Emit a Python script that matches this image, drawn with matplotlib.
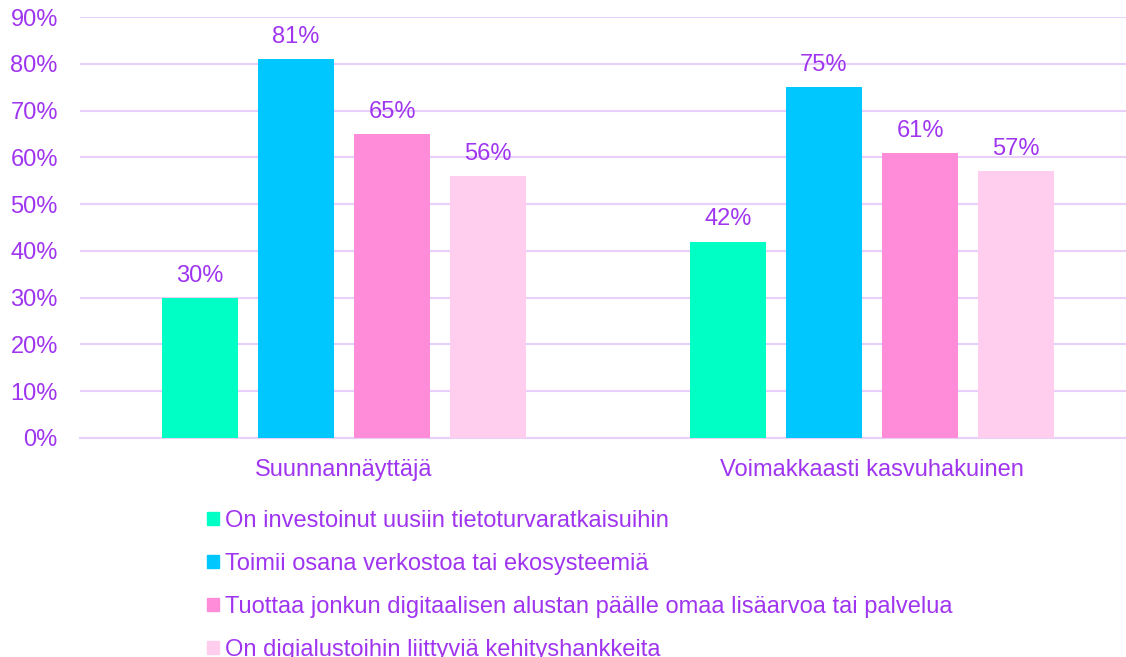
import matplotlib.pyplot as plt
from matplotlib.patches import Patch

plt.rcParams['font.family'] = ['Liberation Sans', 'DejaVu Sans']

groups = ['Suunnannäyttäjä', 'Voimakkaasti kasvuhakuinen']
series = [
    'On investoinut uusiin tietoturvaratkaisuihin',
    'Toimii osana verkostoa tai ekosysteemiä',
    'Tuottaa jonkun digitaalisen alustan päälle omaa lisäarvoa tai palvelua',
    'On digialustoihin liittyviä kehityshankkeita',
]
values = [
    [0.30, 0.42],
    [0.81, 0.75],
    [0.65, 0.61],
    [0.56, 0.57],
]
colors = ['#00FFC5', '#00C8FF', '#FF8CD8', '#FFCDEE']
text_col = '#A035F0'
grid_col = '#E8D0FA'

fig = plt.figure(figsize=(11.26, 6.57), dpi=100)
ax = fig.add_axes([80 / 1126, 219 / 657, 1046 / 1126, 421 / 657])

width = 0.144
step = 0.182
for i, (name, vals) in enumerate(zip(series, values)):
    xs = [g + (i - 1.5) * step for g in range(len(groups))]
    bars = ax.bar(xs, vals, width=width, color=colors[i], label=name, zorder=3)
    for b, v in zip(bars, vals):
        ax.annotate('{:.0%}'.format(v), (b.get_x() + b.get_width() / 2, v),
                    xytext=(0, 8), textcoords='offset points',
                    ha='center', va='bottom', fontsize=17, color=text_col)

ax.set_xlim(-0.5, 1.481)
ax.set_ylim(0, 0.9)
ax.set_yticks([i / 10 for i in range(10)])
ax.set_yticklabels(['{}%'.format(i * 10) for i in range(10)])
ax.set_xticks(range(len(groups)))
ax.set_xticklabels(groups)
ax.tick_params(length=0, labelsize=17, labelcolor=text_col)
ax.tick_params(axis='x', pad=15)
ax.tick_params(axis='y', pad=16)
ax.grid(axis='y', color=grid_col, linewidth=1.5, zorder=0)
for s in ['top', 'right', 'left']:
    ax.spines[s].set_visible(False)
ax.spines['bottom'].set_color(grid_col)
ax.spines['bottom'].set_linewidth(1.5)

handles = [Patch(color=c) for c in colors]
fig.legend(handles, series, loc='upper left',
           bbox_to_anchor=(207 / 1126, 1 - 510 / 657),
           frameon=False, fontsize=17, labelcolor=text_col,
           handlelength=0.5, handleheight=0.5, handletextpad=0.25,
           labelspacing=0.885, borderpad=0, borderaxespad=0)

plt.savefig('out.png', dpi=100)
